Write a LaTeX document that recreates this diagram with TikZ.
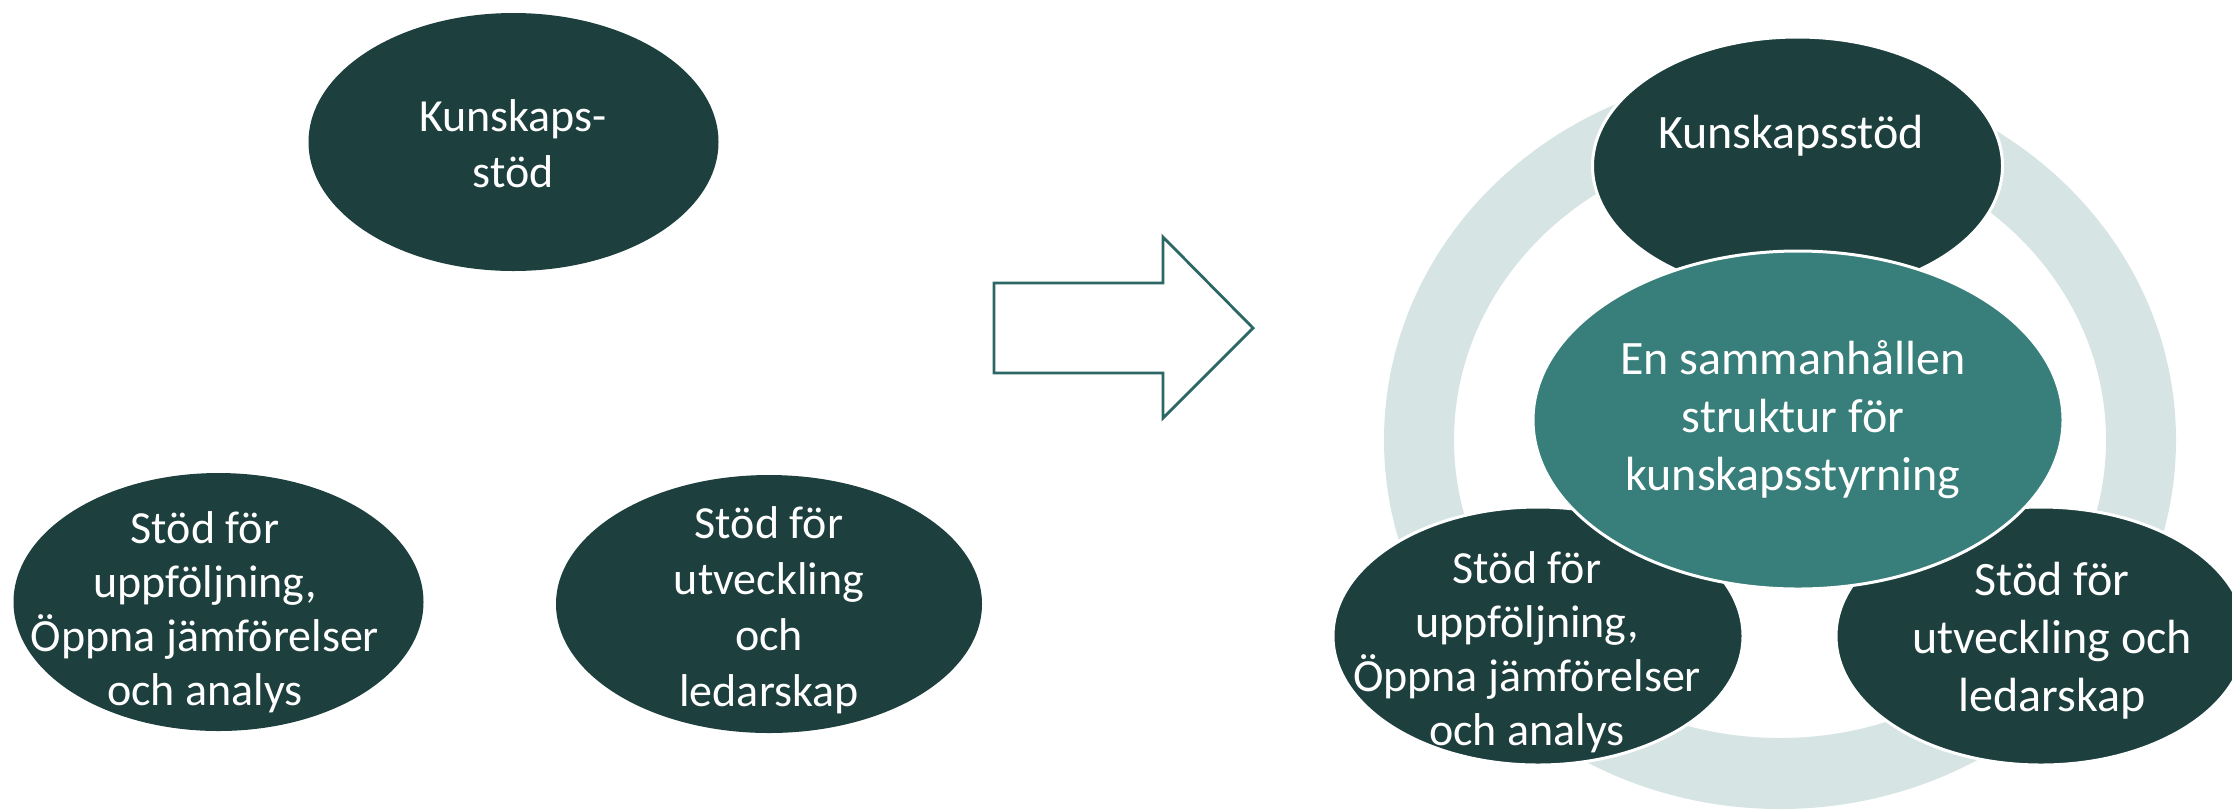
\documentclass[tikz,border=0pt]{standalone}
\usepackage{fontspec}
\setmainfont{Carlito}
\usetikzlibrary{shapes.geometric}
\definecolor{darkteal}{HTML}{1D3F3D}
\definecolor{midteal}{HTML}{387E7A}
\definecolor{ringcol}{HTML}{D6E5E4}
\definecolor{arrowcol}{HTML}{2C6763}
\begin{document}
\begin{tikzpicture}[x=0.5pt,y=-0.5pt,
  blob/.style={ellipse, fill=darkteal, inner sep=0pt, minimum width=205pt, minimum height=129pt},
  ringblob/.style={blob, draw=white, line width=1.5pt},
  hub/.style={ellipse, fill=midteal, draw=white, line width=1.5pt, inner sep=0pt, minimum width=265pt, minimum height=169pt},
  lbl/.style={text=white, align=center, font=\fontsize{23pt}{28pt}\selectfont, inner sep=0pt},
  lblfour/.style={lbl, font=\fontsize{23pt}{27pt}\selectfont},
  lblbig/.style={lbl, font=\fontsize{24pt}{29pt}\selectfont}]
\useasboundingbox (0,0) rectangle (2232,811);
% left group
\node[blob] (kl) at (513.5,142) {};
\node[lbl] (klt) at (513,143.5) {Kunskaps-\\stöd};
\node[blob] (ul) at (218.5,602) {};
\node[lblfour] (ult) at (205,612) {Stöd för\\uppföljning,\\Öppna jämförelser\\och analys};
\node[blob, minimum width=213pt] (ml) at (769,604) {};
\node[lbl] (mlt) at (769,610) {Stöd för\\utveckling\\och\\ledarskap};
% arrow
\draw[arrowcol, line width=1.4pt, line join=miter] (994,283) -- (1163,283) -- (1163,237) -- (1253,328) -- (1163,418) -- (1163,373) -- (994,373) -- cycle;
% right group
\fill[ringcol, even odd rule] (1780,440) ellipse [x radius=396, y radius=369] (1780,440) ellipse [x radius=326, y radius=298];
\node[ringblob] (kr) at (1797.5,166) {};
\node[lblbig] (krt) at (1791,136) {Kunskapsstöd};
\node[ringblob] (ur) at (1538,636) {};
\node[lblfour] (urt) at (1527,652) {Stöd för\\uppföljning,\\Öppna jämförelser\\och analys};
\node[ringblob] (lr) at (2041,636) {};
\node[lblbig] (lrt) at (2052,641) {Stöd för\\utveckling och\\ledarskap};
\node[hub] (hub) at (1798,420) {};
\node[lblbig] (hubt) at (1793,419.5) {En sammanhållen\\struktur för\\kunskapsstyrning};
\end{tikzpicture}
\end{document}
